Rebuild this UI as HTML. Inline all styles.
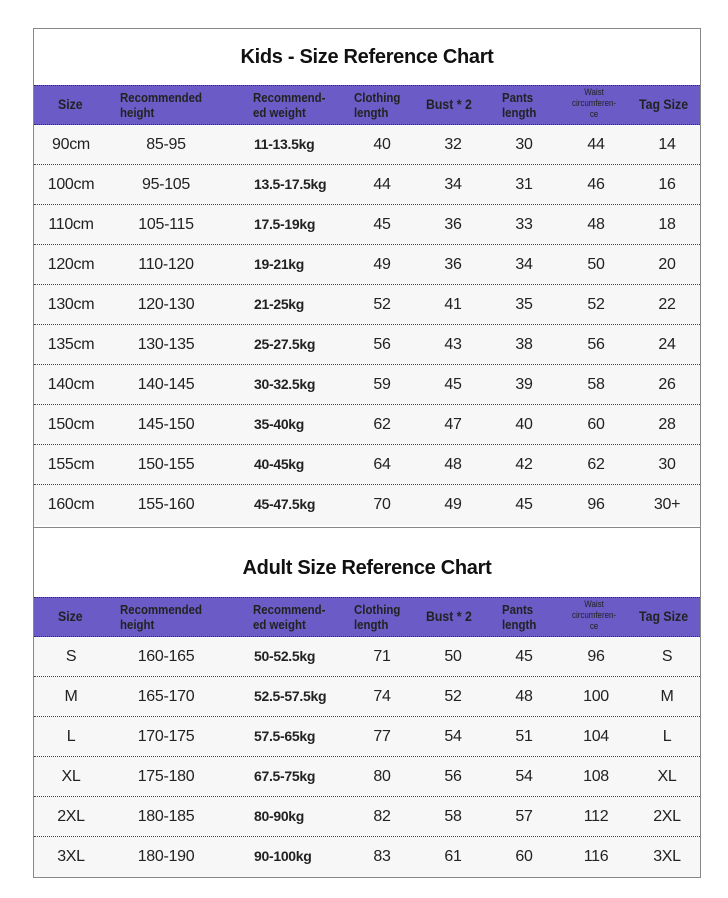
<!DOCTYPE html>
<html><head><meta charset="utf-8"><style>
body{margin:0;width:728px;height:898px;background:#fff;font-family:"Liberation Sans",sans-serif;position:relative;overflow:hidden}
#box{position:absolute;left:33px;top:28px;width:668px;height:850px;border:1px solid #888;box-sizing:border-box}
.t{position:absolute;left:33px;width:668px;text-align:center;font-size:20px;font-weight:bold;color:#111;letter-spacing:-0.3px}
.hd{position:absolute;left:34px;width:666px;height:40px;background:#6a5bc6;border-top:1px dotted #333;border-bottom:1px dotted #333;box-sizing:border-box}
.row{position:absolute;left:34px;width:666px;height:40px;background:#f7f7f7;border-bottom:1px dotted #444;box-sizing:border-box}
.row.last{border-bottom:none}
.c{position:absolute;white-space:nowrap;color:#222;letter-spacing:-0.3px}
.h{position:absolute;color:#222;font-weight:bold;font-size:13px;line-height:15px;white-space:nowrap;transform:scaleX(0.88);transform-origin:left top}
</style></head><body>
<div id="box"></div>
<div class="t" style="top:46px">Kids - Size Reference Chart</div>
<div class="t" style="top:557px">Adult Size Reference Chart</div>
<div style="position:absolute;left:34px;top:527px;width:666px;border-top:1px solid #888"></div>
<div id="root"></div>
<script>
const kids=[["90cm","85-95","11-13.5kg","40","32","30","44","14"],["100cm","95-105","13.5-17.5kg","44","34","31","46","16"],["110cm","105-115","17.5-19kg","45","36","33","48","18"],["120cm","110-120","19-21kg","49","36","34","50","20"],["130cm","120-130","21-25kg","52","41","35","52","22"],["135cm","130-135","25-27.5kg","56","43","38","56","24"],["140cm","140-145","30-32.5kg","59","45","39","58","26"],["150cm","145-150","35-40kg","62","47","40","60","28"],["155cm","150-155","40-45kg","64","48","42","62","30"],["160cm","155-160","45-47.5kg","70","49","45","96","30+"]];
const ad=[["S","160-165","50-52.5kg","71","50","45","96","S"],["M","165-170","52.5-57.5kg","74","52","48","100","M"],["L","170-175","57.5-65kg","77","54","51","104","L"],["XL","175-180","67.5-75kg","80","56","54","108","XL"],["2XL","180-185","80-90kg","82","58","57","112","2XL"],["3XL","180-190","90-100kg","83","61","60","116","3XL"]];
let h='';
function header(y){
 h+=`<div class="hd" style="top:${y}px"></div>`;
 const L=(x,t,s)=>h+=`<div class="h" style="left:${x}px;${s||''}">${t}</div>`;
 L(58,'Size','top:'+(y+12)+'px;font-size:14px');
 L(120,'Recommended<br>height','top:'+(y+5)+'px');
 L(253,'Recommend-<br>ed weight','top:'+(y+5)+'px');
 L(354,'Clothing<br>length','top:'+(y+5)+'px');
 L(426,'Bust * 2','top:'+(y+12)+'px;font-size:14px');
 L(502,'Pants<br>length','top:'+(y+5)+'px');
 L(565,'Waist<br>circumferen-<br>ce','top:'+(y+2)+'px;font-size:9px;line-height:11px;font-weight:normal;text-align:center;width:66px');
 L(639,'Tag Size','top:'+(y+12)+'px;font-size:14px');
}
function rows(d,y0){
 d.forEach((r,i)=>{
  const y=y0+i*40;
  h+=`<div class="row${i==d.length-1?' last':''}" style="top:${y}px"></div>`;
  const C=(cx,t,st)=>h+=`<div class="c" style="left:${cx-50}px;width:100px;text-align:center;top:${y+11}px;font-size:16px;${st||''}">${t}</div>`;
  C(71,r[0]);C(166,r[1]);
  h+=`<div class="c" style="left:254px;top:${y+11}px;font-size:14px;font-weight:bold">${r[2]}</div>`;
  C(382,r[3]);C(453,r[4]);C(524,r[5]);C(596,r[6]);C(667,r[7]);
 });
}
header(85);rows(kids,125);
header(597);rows(ad,637);
document.getElementById('root').innerHTML=h;
</script>
</body></html>
